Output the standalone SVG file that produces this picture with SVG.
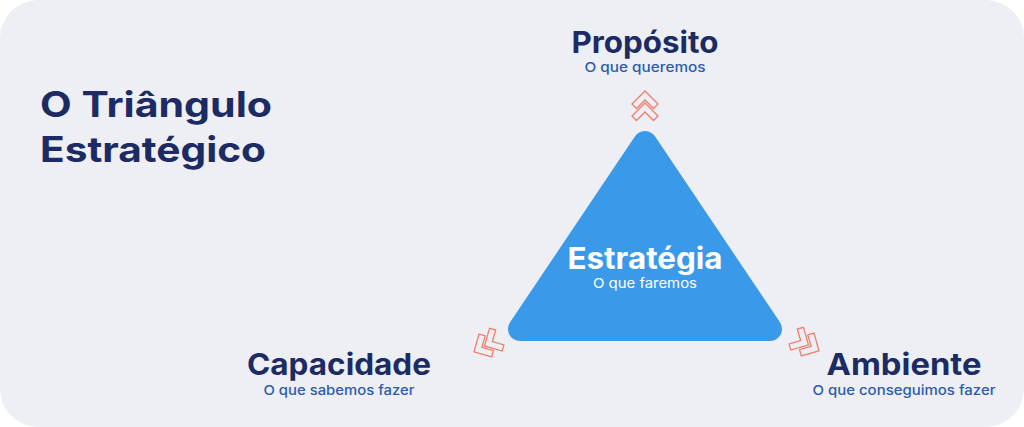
<svg xmlns="http://www.w3.org/2000/svg" width="1024" height="427" viewBox="0 0 1024 427">
<style>
.h{font-family:"Inter","Open Sans",sans-serif;font-weight:700;fill:#1c2b63;text-anchor:middle;font-size:30px}
.s{font-family:"Inter","Open Sans",sans-serif;font-weight:500;fill:#2d5cae;text-anchor:middle;font-size:13.5px}
.t{font-family:"Inter","Open Sans",sans-serif;font-weight:700;fill:#1c2b63;font-size:35px}
.chev{fill:none;stroke:#ef7d6b;stroke-width:1.3;stroke-linejoin:miter}
</style>
<defs>
<g id="dchev">
<polygon class="chev" points="0,-16 13,-3 8.5,1.5 0,-7 -8.5,1.5 -13,-3"/>
<polygon class="chev" points="0,-4 13,9 8.5,13.5 0,5 -8.5,13.5 -13,9"/>
</g>
</defs>
<rect x="0" y="0" width="1024" height="427" fill="#ffffff"/>
<rect x="0" y="0" width="1024" height="427" rx="38" fill="#eeeff5"/>
<g id="title">
<text class="t" x="40" y="117" textLength="232" lengthAdjust="spacingAndGlyphs">O Triângulo</text>
<text class="t" x="40" y="162" textLength="226" lengthAdjust="spacingAndGlyphs">Estratégico</text>
</g>
<g id="connectors">
<use href="#dchev" transform="translate(645,107)"/>
<use href="#dchev" transform="translate(488,344) rotate(-119)"/>
<use href="#dchev" transform="translate(805,343) rotate(119)"/>
</g>
<g id="estrategia">
<polygon points="645,143 520,329 770,329" fill="#3b99ea" stroke="#3b99ea" stroke-width="24" stroke-linejoin="round"/>
<text class="h" x="645" y="269" textLength="155" lengthAdjust="spacingAndGlyphs" style="fill:#ffffff">Estratégia</text>
<text class="s" x="645" y="288" textLength="104" lengthAdjust="spacingAndGlyphs" style="fill:#ffffff;font-weight:400">O que faremos</text>
</g>
<g id="proposito">
<text class="h" x="645" y="53" textLength="147" lengthAdjust="spacingAndGlyphs">Propósito</text>
<text class="s" x="645" y="72" textLength="121" lengthAdjust="spacingAndGlyphs">O que queremos</text>
</g>
<g id="capacidade">
<text class="h" x="339" y="375" textLength="184" lengthAdjust="spacingAndGlyphs">Capacidade</text>
<text class="s" x="339" y="395" textLength="151" lengthAdjust="spacingAndGlyphs">O que sabemos fazer</text>
</g>
<g id="ambiente">
<text class="h" x="904" y="375" textLength="155" lengthAdjust="spacingAndGlyphs">Ambiente</text>
<text class="s" x="904" y="395" textLength="183" lengthAdjust="spacingAndGlyphs">O que conseguimos fazer</text>
</g>
</svg>
